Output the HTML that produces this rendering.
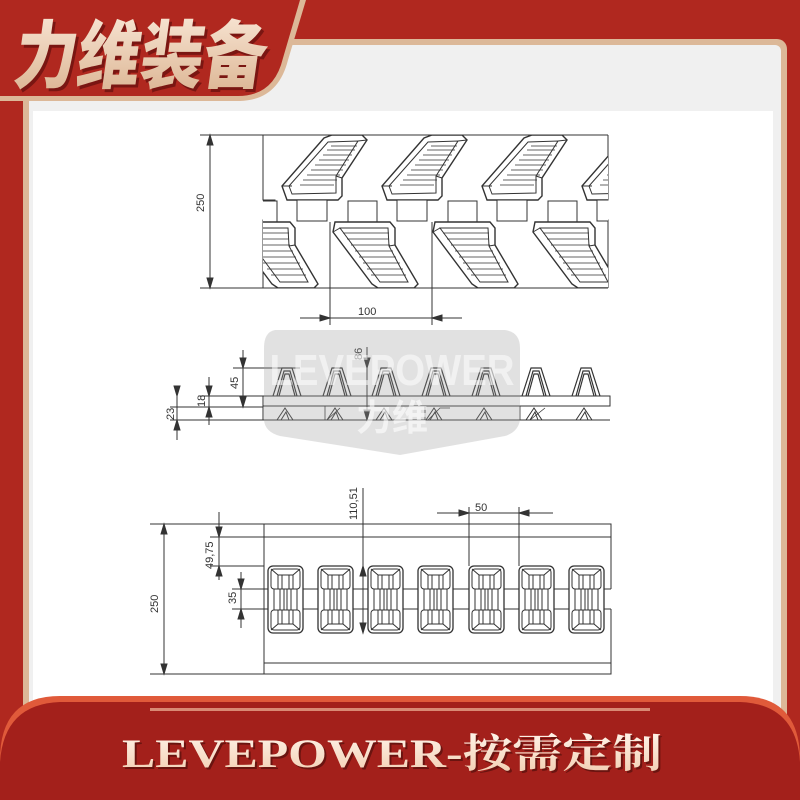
<!DOCTYPE html>
<html><head><meta charset="utf-8"><style>
body{margin:0;width:800px;height:800px;overflow:hidden;background:#b0281f;font-family:"Liberation Sans",sans-serif;position:relative}
.abs{position:absolute}
</style></head><body>
<!-- panels -->
<div class="abs" style="left:23px;top:39px;width:764px;height:700px;background:#dcb898;border-radius:10px"></div>
<div class="abs" style="left:29px;top:45px;width:752px;height:690px;background:#f0f0f0;border-radius:6px"></div>
<div class="abs" style="left:33px;top:111px;width:740px;height:620px;background:#fff"></div>
<!-- header shape -->
<svg class="abs" style="left:0;top:0" width="800" height="110">
<path d="M0,0 L306,0 L288,60 Q278,100 240,101 L0,101 Z" fill="#dcb898"/>
<path d="M0,0 L300,0 L283,58 Q274,96 238,96 L0,96 Z" fill="#b0281f"/>
<defs><linearGradient id="hg" x1="0" y1="0" x2="0" y2="1"><stop offset="0" stop-color="#fdeee0"/><stop offset="1" stop-color="#d9b08c"/></linearGradient>
<linearGradient id="fg" x1="0" y1="0" x2="0" y2="1"><stop offset="0" stop-color="#fff4ea"/><stop offset="1" stop-color="#f2cdb0"/></linearGradient></defs>
<text x="14" y="85" font-family="'Noto Sans CJK SC',sans-serif" font-weight="900" font-size="74" fill="#7a1612" transform="skewX(-8) translate(12,0)" textLength="252" lengthAdjust="spacingAndGlyphs">力维装备</text>
<text x="11" y="82" font-family="'Noto Sans CJK SC',sans-serif" font-weight="900" font-size="74" fill="url(#hg)" transform="skewX(-8) translate(12,0)" textLength="252" lengthAdjust="spacingAndGlyphs">力维装备</text>
</svg>
<!-- drawings -->
<svg class="abs" style="left:0;top:0" width="800" height="700" stroke="#333" stroke-width="1" fill="none">
<defs>
<clipPath id="c1"><rect x="263" y="135" width="345" height="153"/></clipPath>
<g id="ts">
<path d="M287,200 L282,186 L324,138 L332,135 L362,135 L367,140 L342,178 L342,196 L338,200 Z" fill="#fff" stroke-width="1.4"/>
<path d="M292,194 L289,186 L328,142 L358,141 L336,176 L336,193 Z"/>
<path d="M300,185 L334,185 M303,180 L337,180 M307,175 L340,175 M311,170 L343,170 M315,165 L346,165 M319,160 L349,160 M323,155 L352,155 M327,150 L355,150 M331,146 L357,146" stroke-width="0.8"/>
<path d="M282,186 L292,186 M336,176 L342,178 M358,141 L367,140"/>
<rect x="297" y="200" width="30" height="21" fill="#fff"/>
</g>
<g id="bs">
<rect x="348" y="201" width="29" height="21" fill="#fff"/>
<path d="M335,222 L390,222 L395,228 L395,245 L418,284 L414,288 L378,288 L372,284 L333,232 Z" fill="#fff" stroke-width="1.4"/>
<path d="M340,228 L388,228 L389,246 L408,282 L380,282 Z"/>
<path d="M343,233 L389,233 M347,239 L389,239 M351,245 L390,245 M355,251 L393,251 M359,257 L396,257 M363,263 L400,263 M367,269 L403,269 M371,275 L406,275" stroke-width="0.8"/>
<path d="M333,232 L340,228 M395,245 L389,246"/>
</g>
<g id="tooth">
<path d="M0,28 L9,0 L19,0 L28,28 M4,28 L11,3 L17,3 L24,28 M6,28 L12,6 L16,6 L22,28" stroke-width="1.2"/>
<path d="M4,52 L12,40 L20,52 M8,52 L13,44 L16,52"/>
</g>
<g id="blk">
<rect x="0" y="0" width="35" height="67" rx="5" fill="#fff" stroke-width="1.3"/>
<rect x="3" y="3" width="29" height="20" rx="3"/>
<rect x="3" y="44" width="29" height="20" rx="3"/>
<path d="M3,3 L10,9 L25,9 L32,3 M10,9 L10,23 M25,9 L25,23 M14,9 L14,23 M21,9 L21,23 M3,64 L10,58 L25,58 L32,64 M10,44 L10,58 M25,44 L25,58 M14,44 L14,58 M21,44 L21,58"/>
<path d="M6,23 L6,44 M29,23 L29,44 M12,23 L12,44 M23,23 L23,44 M16,23 L16,44 M19,23 L19,44"/>
</g>
</defs>
<!-- drawing 1 -->
<path d="M200,135 L608,135 M200,288 L608,288 M263,135 L263,200 L275,200 L275,220 L263,220 L263,288 M608,135 L608,200 L598,200 L598,220 L608,220 L608,288"/>
<g clip-path="url(#c1)">
<use href="#ts"/><use href="#ts" x="100"/><use href="#ts" x="200"/><use href="#ts" x="300"/>
<use href="#bs" x="-100"/><use href="#bs"/><use href="#bs" x="100"/><use href="#bs" x="200"/>
</g>
<path d="M210,135 L210,288"/>
<path d="M207,145 L210,135 L213,145 Z M207,278 L210,288 L213,278 Z" fill="#333"/>
<text x="0" y="0" transform="translate(204,212) rotate(-90)" font-size="11" fill="#333" stroke="none">250</text>
<path d="M330,222 L330,325 M432,222 L432,325 M300,318 L462,318"/>
<path d="M320,315 L330,318 L320,321 Z M442,315 L432,318 L442,321 Z" fill="#333"/>
<text x="358" y="315" font-size="11" fill="#333" stroke="none">100</text>
<!-- drawing 2 -->
<path d="M263,396 L610,396 L610,406 L263,406 Z M263,406 L263,420 L610,420 M233,368 L300,368 M200,396 L263,396 M170,407 L263,407 M170,420 L263,420"/>
<g transform="translate(273,368)"><use href="#tooth"/></g>
<g transform="translate(323,368)"><use href="#tooth"/></g>
<g transform="translate(372,368)"><use href="#tooth"/></g>
<g transform="translate(422,368)"><use href="#tooth"/></g>
<g transform="translate(472,368)"><use href="#tooth"/></g>
<g transform="translate(522,368)"><use href="#tooth"/></g>
<g transform="translate(572,368)"><use href="#tooth"/></g>
<path d="M327,420 L340,408 M428,420 L440,408 L450,408 M530,420 L545,408 M325,406 L325,420 M425,406 L425,420 M520,406 L520,420" stroke-width="0.8"/>
<path d="M243,350 L243,407 M209,377 L209,425 M177,387 L177,440 M367,347 L367,420"/>
<path d="M240,358 L243,368 L246,358 Z M240,397 L243,407 L246,397 Z M206,386 L209,396 L212,386 Z M206,417 L209,407 L212,417 Z M174,386 L177,396 L180,386 Z M174,430 L177,420 L180,430 Z M364,358 L367,368 L370,358 Z M364,410 L367,420 L370,410 Z" fill="#333"/>
<text transform="translate(238,389) rotate(-90)" font-size="11" fill="#333" stroke="none">45</text>
<text transform="translate(205,407) rotate(-90)" font-size="11" fill="#333" stroke="none">18</text>
<text transform="translate(174,420) rotate(-90)" font-size="11" fill="#333" stroke="none">23</text>
<text transform="translate(362,360) rotate(-90)" font-size="11" fill="#333" stroke="none">86</text>
<!-- drawing 3 -->
<path d="M150,524 L611,524 L611,589 M611,609 L611,674 L150,674 M264,524 L264,674 M264,537 L611,537 M264,663 L611,663 M264,589 L611,589 M264,609 L611,609 M210,537 L264,537 M210,566 L264,566 M232,589 L264,589 M232,609 L264,609"/>
<g transform="translate(268,566)"><use href="#blk"/></g>
<g transform="translate(318,566)"><use href="#blk"/></g>
<g transform="translate(368,566)"><use href="#blk"/></g>
<g transform="translate(418,566)"><use href="#blk"/></g>
<g transform="translate(469,566)"><use href="#blk"/></g>
<g transform="translate(519,566)"><use href="#blk"/></g>
<g transform="translate(569,566)"><use href="#blk"/></g>
<path d="M164,524 L164,674 M219,512 L219,580 M241,572 L241,628 M363,488 L363,633 M469,507 L469,566 M519,507 L519,566 M437,513 L553,513"/>
<path d="M161,534 L164,524 L167,534 Z M161,664 L164,674 L167,664 Z M216,527 L219,537 L222,527 Z M216,576 L219,566 L222,576 Z M238,579 L241,589 L244,579 Z M238,619 L241,609 L244,619 Z M360,576 L363,566 L366,576 Z M360,623 L363,633 L366,623 Z M459,510 L469,513 L459,516 Z M529,510 L519,513 L529,516 Z" fill="#333"/>
<text transform="translate(158,613) rotate(-90)" font-size="11" fill="#333" stroke="none">250</text>
<text transform="translate(213,569) rotate(-90)" font-size="11" fill="#333" stroke="none">49,75</text>
<text transform="translate(236,604) rotate(-90)" font-size="11" fill="#333" stroke="none">35</text>
<text transform="translate(357,520) rotate(-90)" font-size="11" fill="#333" stroke="none">110,51</text>
<text x="475" y="511" font-size="11" fill="#333" stroke="none">50</text>
</svg>
<!-- watermark -->
<svg class="abs" style="left:0;top:0" width="800" height="700">
<path d="M275,330 L505,330 Q520,332 520,348 L520,420 Q518,432 505,436 L400,455 L280,436 Q265,432 264,420 L264,348 Q264,332 275,330 Z" fill="#9a9a9a" opacity="0.3"/>
<text x="392" y="385" text-anchor="middle" font-size="44" font-weight="bold" fill="#fff" opacity="0.55" textLength="245" lengthAdjust="spacingAndGlyphs">LEVEPOWER</text>
<text x="392" y="430" text-anchor="middle" font-family="'Noto Sans CJK SC',sans-serif" font-size="36" font-weight="bold" fill="#fff" opacity="0.6">力维</text>
</svg>
<!-- footer -->
<svg class="abs" style="left:0;top:690" width="800" height="110">
<path d="M0,110 L0,70 Q0,6 60,6 L740,6 Q800,6 800,70 L800,110 Z" fill="#e05a3a"/>
<path d="M0,110 L0,72 Q4,14 60,12 L740,12 Q796,14 800,72 L800,110 Z" fill="#a3201b"/>
<rect x="150" y="18" width="500" height="3" fill="#f0b89a" opacity="0.7"/>
<text x="392" y="77" text-anchor="middle" font-family="'Liberation Serif','Noto Serif CJK SC',serif" font-weight="bold" font-size="40" fill="#6a1410" textLength="540" lengthAdjust="spacingAndGlyphs" transform="translate(2,2)">LEVEPOWER-按需定制</text>
<text x="392" y="77" text-anchor="middle" font-family="'Liberation Serif','Noto Serif CJK SC',serif" font-weight="bold" font-size="40" fill="url(#fg)" textLength="540" lengthAdjust="spacingAndGlyphs">LEVEPOWER-按需定制</text>
</svg>
</body></html>
